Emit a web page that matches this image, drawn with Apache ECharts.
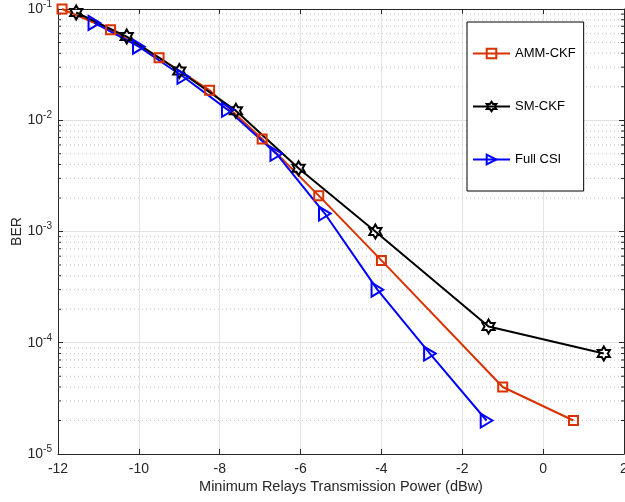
<!DOCTYPE html>
<html>
<head>
<meta charset="utf-8">
<script src="https://cdn.jsdelivr.net/npm/echarts@6/dist/echarts.min.js"></script>
<style>
  html, body { margin: 0; padding: 0; background: #fff; }
  #chart { width: 625px; height: 502px; }
</style>
</head>
<body>
<div id="chart"></div>
<script>
// values
const ammX = [-11.9, -10.7, -9.5, -8.25, -6.95, -5.55, -4.0, -1.0, 0.75];
const ammY = [0.1, 0.065, 0.0365, 0.0186, 0.0068, 0.0021, 0.00055, 0.00004, 0.00002];

const smX = [-11.55, -10.3, -9.0, -7.6, -6.05, -4.15, -1.35, 1.5];
const smY = [0.093, 0.0565, 0.0277, 0.0122, 0.0037, 0.001, 0.00014, 0.00008];

const csiX = [-11.1, -10.0, -8.9, -7.8, -6.6, -5.4, -4.1, -2.8, -1.4];
const csiY = [0.075, 0.0458, 0.0246, 0.0124, 0.005, 0.00145, 0.0003, 0.00008, 0.00002];

const xTicks = [-12, -10, -8, -6, -4, -2, 0, 2];
const yDecades = [-5, -4, -3, -2, -1];

const RED = "#d93200";
const BLUE = "#0000ff";
const BLACK = "#000000";
const AXIS = "#262626";

// minor log positions 2..9 within each decade
const minorVals = [];
for (const d of yDecades.slice(0, -1)) {
	for (let m = 2; m <= 9; m++) minorVals.push(m * Math.pow(10, d));
}

// six pointed star (hexagram) marker outline
function hexagram() {
	const pts = [];
	for (let i = 0; i < 12; i++) {
		const a = Math.PI / 2 + (i * Math.PI) / 6;
		const r = i % 2 === 0 ? 10 : 5.77;
		pts.push([10 + r * Math.cos(a), 10 - r * Math.sin(a)]);
	}
	return "path://M" + pts.map((p) => p[0].toFixed(2) + "," + p[1].toFixed(2)).join("L") + "Z";
}

const zip = (xs, ys) => xs.map((x, i) => [x, ys[i]]);

const chart = echarts.init(document.getElementById("chart"), null, { renderer: "canvas" });

const lineSeries = (name, data, color, symbol, size) => ({
	name,
	type: "line",
	data,
	symbol,
	symbolSize: size,
	symbolKeepAspect: true,
	showAllSymbol: true,
	lineStyle: { color, width: 2 },
	itemStyle: { color: "rgba(0,0,0,0)", borderColor: color, borderWidth: 2 },
	emphasis: { disabled: true },
	z: 5,
});

chart.setOption({
	animation: false,
	textStyle: { fontFamily: "Liberation Sans, Arial, sans-serif" },
	grid: { left: 58, top: 9, right: 1, bottom: 48, outerBoundsMode: "none" },
	legend: {
		orient: "vertical",
		left: 467,
		top: 22,
		padding: [25, 8, 25, 5],
		itemGap: 40,
		itemWidth: 37,
		itemHeight: 12,
		backgroundColor: "#fff",
		borderColor: "#000",
		borderWidth: 1,
		textStyle: { fontSize: 13, color: "#000" },
		data: ["AMM-CKF", "SM-CKF", "Full CSI"],
	},
	xAxis: [
		{
			type: "value",
			min: -12,
			max: 2,
			interval: 2,
			name: "Minimum Relays Transmission Power (dBw)",
			nameLocation: "middle",
			nameGap: 25,
			nameMoveOverlap: false,
			nameTextStyle: { fontSize: 14.5, color: AXIS },
			axisLine: { onZero: false, lineStyle: { color: AXIS } },
			axisTick: { inside: true, length: 5, lineStyle: { color: AXIS } },
			axisLabel: { fontSize: 14, color: AXIS, margin: 8, showMaxLabel: true },
			splitLine: { show: true, lineStyle: { color: "#e3e3e3" } },
		},
		{
			type: "value",
			position: "top",
			min: -12,
			max: 2,
			interval: 2,
			axisLine: { onZero: false, lineStyle: { color: AXIS } },
			axisTick: { inside: true, length: 5, lineStyle: { color: AXIS } },
			axisLabel: { show: false },
			splitLine: { show: false },
		},
	],
	yAxis: [
		{
			type: "log",
			logBase: 10,
			min: 1e-5,
			max: 0.1,
			name: "BER",
			nameLocation: "middle",
			nameGap: 34,
			nameMoveOverlap: false,
			nameTextStyle: { fontSize: 14, color: AXIS },
			axisLine: { onZero: false, lineStyle: { color: AXIS } },
			axisTick: { inside: true, length: 5, lineStyle: { color: AXIS } },
			axisLabel: {
				color: AXIS,
				margin: 6,
				formatter: (v) => "{b|10}{s|" + Math.round(Math.log10(v)) + "}",
				rich: {
					b: { fontSize: 14, color: AXIS },
					s: { fontSize: 10, color: AXIS, padding: [0, 0, 10, 0] },
				},
			},
			splitLine: { show: true, lineStyle: { color: "#e3e3e3" } },
		},
		{
			type: "log",
			logBase: 10,
			min: 1e-5,
			max: 0.1,
			position: "right",
			axisLine: { show: true, onZero: false, lineStyle: { color: AXIS } },
			axisTick: { inside: true, length: 5, lineStyle: { color: AXIS } },
			axisLabel: { show: false },
			splitLine: { show: false },
		},
	],
	series: [
		// minor grid lines + minor ticks for the log axis
		{
			type: "custom",
			silent: true,
			z: 1,
			data: minorVals.map((v) => [v]),
			encode: { y: 0 },
			renderItem: (params, api) => {
				const y = api.coord([-12, api.value(0)])[1];
				const cs = params.coordSys;
				const l = cs.x;
				const r = cs.x + cs.width;
				return {
					type: "group",
					children: [
						{
							type: "line",
							shape: { x1: l, y1: y, x2: r, y2: y },
							style: { stroke: "#c4c4c4", lineWidth: 1, lineDash: [1, 3] },
						},
						{
							type: "line",
							shape: { x1: l, y1: y, x2: l + 3, y2: y },
							style: { stroke: AXIS, lineWidth: 1 },
						},
						{
							type: "line",
							shape: { x1: r - 3, y1: y, x2: r, y2: y },
							style: { stroke: AXIS, lineWidth: 1 },
						},
					],
				};
			},
		},
		lineSeries("AMM-CKF", zip(ammX, ammY), RED, "rect", 9),
		lineSeries("SM-CKF", zip(smX, smY), BLACK, hexagram(), 14),
		lineSeries("Full CSI", zip(csiX, csiY), BLUE, "path://M0,0L10,6L0,12Z", 14),
	],
});
</script>
</body>
</html>
